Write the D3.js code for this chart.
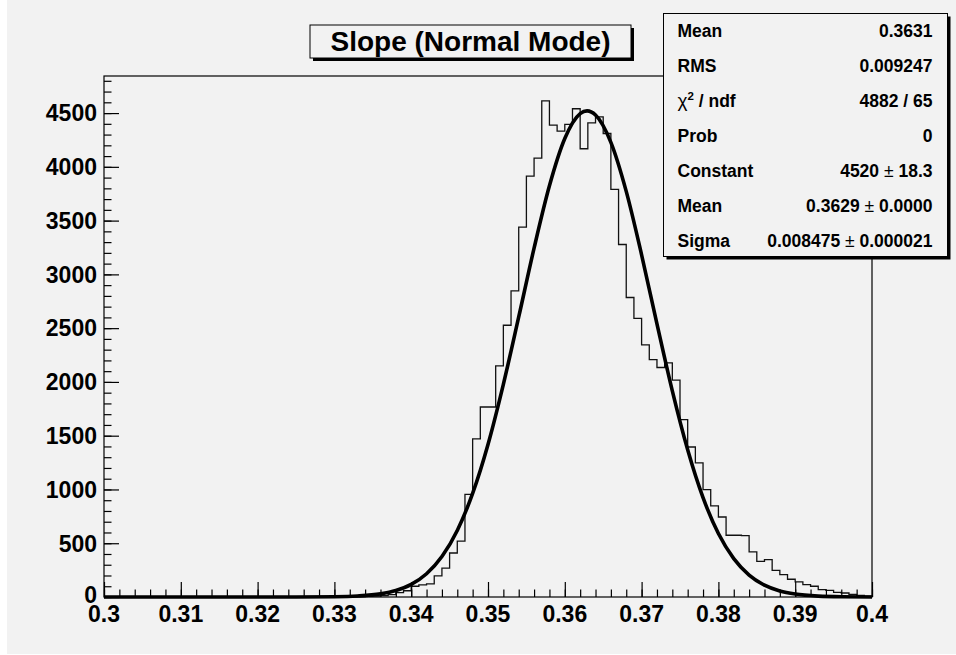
<!DOCTYPE html>
<html>
<head>
<meta charset="utf-8">
<script src="https://cdn.jsdelivr.net/npm/d3@7/dist/d3.min.js"></script>
<style>
  html, body { margin: 0; padding: 0; background: #ffffff; }
  svg { display: block; font-family: "Liberation Sans", Arial, Helvetica, sans-serif; }
</style>
</head>
<body>
<div id="slope-hist"></div>
<script>
// histogram: 100 bins between 0.3 and 0.4, contents
const xRange = [0.3, 0.4];
const binCounts = [
  0, 0, 0, 0, 0, 0, 0, 0, 0, 0,
  0, 0, 0, 0, 0, 0, 0, 0, 0, 0,
  0, 0, 0, 0, 0, 0, 0, 0, 0, 0,
  0, 0, 2, 3, 5, 8, 13, 22, 40, 58,
  100, 112, 122, 197, 268, 409, 520, 954, 1470, 1767,
  1767, 2149, 2527, 2847, 3439, 3914, 4081, 4614, 4388, 4332,
  4394, 4540, 4168, 4409, 4465, 4310, 3790, 3278, 2785, 2590,
  2345, 2208, 2134, 2177, 2016, 1650, 1395, 1247, 999, 847,
  744, 574, 574, 570, 419, 332, 348, 248, 208, 165,
  140, 115, 100, 68, 62, 43, 37, 25, 14, 8
];

// gaussian fit line
const fitX = [
  0.300, 0.310, 0.320, 0.325, 0.330, 0.333, 0.336, 0.338, 0.340, 0.342,
  0.344, 0.346, 0.348, 0.350, 0.352, 0.354, 0.356, 0.358, 0.360, 0.362,
  0.3629, 0.364, 0.366, 0.368, 0.370, 0.372, 0.374, 0.376, 0.378, 0.380,
  0.382, 0.384, 0.386, 0.388, 0.390, 0.393, 0.396, 0.400
];
const fitY = [
  0, 0, 0, 0.2, 2.4, 9, 29, 60, 117, 216,
  376, 619, 963, 1418, 1977, 2604, 3244, 3824, 4263, 4495,
  4520, 4482, 4228, 3772, 3182, 2540, 1917, 1369, 924, 590,
  357, 204, 110, 56, 27, 8, 2.2, 0.3
];

const xTicks = [0.3, 0.31, 0.32, 0.33, 0.34, 0.35, 0.36, 0.37, 0.38, 0.39, 0.4];
const xTickLabels = ["0.3", "0.31", "0.32", "0.33", "0.34", "0.35", "0.36", "0.37", "0.38", "0.39", "0.4"];
const yTicks = [0, 500, 1000, 1500, 2000, 2500, 3000, 3500, 4000, 4500];

const chartTitle = "Slope (Normal Mode)";
const statsLabels = ["Mean", "RMS", "chi2", "Prob", "Constant", "Mean", "Sigma"];
const statsValues = ["0.3631", "0.009247", "4882 / 65", "0", "4520 ± 18.3", "0.3629 ± 0.0000", "0.008475 ± 0.000021"];

class SlopeHistogram {
  constructor(containerId) {
    this.containerId = containerId;
    this.width = 956;
    this.height = 655;
    this.margin = { top: 76, right: 84, bottom: 58, left: 104 };
    this.background = "#f2f2f2";
  }

  render() {
    const margin = this.margin;
    const innerWidth = this.width - margin.left - margin.right;
    const innerHeight = this.height - margin.top - margin.bottom;

    const svg = d3.select(`#${this.containerId}`)
      .append("svg")
      .attr("width", this.width)
      .attr("height", this.height);

    svg.append("rect")
      .attr("x", 7)
      .attr("y", 0)
      .attr("width", this.width - 7)
      .attr("height", this.height - 1)
      .attr("fill", this.background);

    const x = d3.scaleLinear()
      .domain(xRange)
      .range([margin.left, margin.left + innerWidth]);

    // ROOT leaves 5% headroom above the tallest bin
    const y = d3.scaleLinear()
      .domain([0, d3.max(binCounts) * 1.05])
      .range([margin.top + innerHeight, margin.top]);

    const binWidth = (xRange[1] - xRange[0]) / binCounts.length;
    const stepPoints = binCounts.map((count, i) => [xRange[0] + i * binWidth, count]);
    stepPoints.push([xRange[1], binCounts[binCounts.length - 1]]);
    stepPoints.push([xRange[1], 0]);

    svg.append("path")
      .attr("d", d3.line()
        .x((d) => x(d[0]))
        .y((d) => y(d[1]))
        .curve(d3.curveStepAfter)(stepPoints))
      .attr("fill", "none")
      .attr("stroke", "#111")
      .attr("stroke-width", 1.3);

    svg.append("path")
      .attr("d", d3.line()
        .x((d, i) => x(fitX[i]))
        .y((d) => y(d))
        .curve(d3.curveMonotoneX)(fitY))
      .attr("fill", "none")
      .attr("stroke", "#000")
      .attr("stroke-width", 3.6)
      .attr("stroke-linejoin", "round");

    svg.append("rect")
      .attr("x", margin.left)
      .attr("y", margin.top)
      .attr("width", innerWidth)
      .attr("height", innerHeight)
      .attr("fill", "none")
      .attr("stroke", "#000")
      .attr("stroke-width", 1.2);

    // x axis: primary ticks every 0.01, secondary every 0.002
    svg.append("g")
      .attr("transform", `translate(0,${margin.top + innerHeight})`)
      .call(d3.axisTop(x)
        .tickValues(d3.range(0, 51).map((i) => xRange[0] + i * 0.002))
        .tickSize(7.5)
        .tickFormat(""))
      .call((g) => g.select(".domain").remove())
      .call((g) => g.selectAll("line").attr("stroke", "#000").attr("stroke-width", 1.2));

    svg.append("g")
      .attr("transform", `translate(0,${margin.top + innerHeight})`)
      .call(d3.axisTop(x)
        .tickValues(xTicks)
        .tickSize(15)
        .tickFormat(""))
      .call((g) => g.select(".domain").remove())
      .call((g) => g.selectAll("line").attr("stroke", "#000").attr("stroke-width", 1.2));

    svg.append("g")
      .selectAll("text")
      .data(xTicks)
      .enter()
      .append("text")
      .attr("x", (d) => x(d))
      .attr("y", margin.top + innerHeight + 25)
      .attr("text-anchor", "middle")
      .style("font-size", "23px")
      .style("font-weight", "700")
      .text((d, i) => xTickLabels[i]);

    // y axis: primary ticks every 500, secondary every 100
    svg.append("g")
      .attr("transform", `translate(${margin.left},0)`)
      .call(d3.axisRight(y)
        .tickValues(d3.range(0, 49).map((i) => i * 100))
        .tickSize(7.5)
        .tickFormat(""))
      .call((g) => g.select(".domain").remove())
      .call((g) => g.selectAll("line").attr("stroke", "#000").attr("stroke-width", 1.2));

    svg.append("g")
      .attr("transform", `translate(${margin.left},0)`)
      .call(d3.axisRight(y)
        .tickValues(yTicks)
        .tickSize(15)
        .tickFormat(""))
      .call((g) => g.select(".domain").remove())
      .call((g) => g.selectAll("line").attr("stroke", "#000").attr("stroke-width", 1.2));

    svg.append("g")
      .selectAll("text")
      .data(yTicks)
      .enter()
      .append("text")
      .attr("x", margin.left - 7)
      .attr("y", (d) => y(d) + (d === 0 ? 6 : 8.3))
      .attr("text-anchor", "end")
      .style("font-size", "23px")
      .style("font-weight", "700")
      .text((d) => d);

    this.drawTitle(svg);
    this.drawStats(svg);
  }

  drawTitle(svg) {
    const box = { x: 310, y: 25, width: 321, height: 33 };

    svg.append("rect")
      .attr("x", box.x + 3)
      .attr("y", box.y + 3)
      .attr("width", box.width)
      .attr("height", box.height)
      .attr("fill", "#000");

    svg.append("rect")
      .attr("x", box.x)
      .attr("y", box.y)
      .attr("width", box.width)
      .attr("height", box.height)
      .attr("fill", this.background)
      .attr("stroke", "#000")
      .attr("stroke-width", 1);

    svg.append("text")
      .attr("x", box.x + box.width / 2)
      .attr("y", box.y + 26)
      .attr("text-anchor", "middle")
      .style("font-size", "28px")
      .style("font-weight", "700")
      .text(chartTitle);
  }

  drawStats(svg) {
    const box = { x: 663.5, y: 13.5, width: 284, height: 243 };
    const rowHeight = 35;

    svg.append("rect")
      .attr("x", box.x + 3)
      .attr("y", box.y + 3)
      .attr("width", box.width)
      .attr("height", box.height)
      .attr("fill", "#000");

    svg.append("rect")
      .attr("x", box.x)
      .attr("y", box.y)
      .attr("width", box.width)
      .attr("height", box.height)
      .attr("fill", this.background)
      .attr("stroke", "#000")
      .attr("stroke-width", 1);

    const rows = svg.append("g")
      .style("font-size", "17.5px")
      .style("font-weight", "700");

    statsLabels.forEach((label, i) => {
      const baseline = 36.7 + i * rowHeight;
      const labelText = rows.append("text")
        .attr("x", box.x + 14)
        .attr("y", baseline);

      if (label === "chi2") {
        labelText.append("tspan").style("font-weight", "400").style("font-size", "19px").text("χ");
        labelText.append("tspan").attr("dy", -7).style("font-size", "11.5px").text("2");
        labelText.append("tspan").attr("dy", 7).text(" / ndf");
      } else {
        labelText.text(label);
      }

      const valueText = rows.append("text")
        .attr("x", box.x + 269)
        .attr("y", baseline)
        .attr("text-anchor", "end");

      statsValues[i].split("±").forEach((part, j) => {
        if (j > 0) {
          valueText.append("tspan").style("font-weight", "400").text("±");
        }
        valueText.append("tspan").text(part);
      });
    });
  }
}

const slopeHistogram = new SlopeHistogram("slope-hist");
slopeHistogram.render();
</script>
</body>
</html>
